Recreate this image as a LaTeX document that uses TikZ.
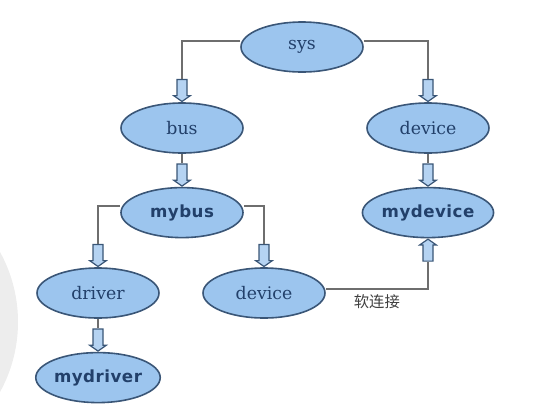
\documentclass[tikz,border=0pt]{standalone}
\usepackage{fontspec}
\setmainfont{DejaVu Serif}
\newfontfamily\boldsans[LetterSpace=3]{DejaVu Sans}
\newfontfamily\cjk{Noto Sans CJK SC}
\usetikzlibrary{positioning,shapes.geometric,shapes.arrows}
\definecolor{nodeblue}{HTML}{9CC5EE}
\definecolor{rimblue}{HTML}{3A5677}
\definecolor{textblue}{HTML}{22406A}
\definecolor{linegray}{HTML}{6E6E6E}
\definecolor{shadegray}{HTML}{EDEDED}

\begin{document}
\begin{tikzpicture}[
  x=0.75pt, y=-0.75pt,
  font=\fontsize{13}{15}\selectfont,
    node distance=24.75pt,
    dir/.style={ellipse, draw=rimblue, line width=1.2pt, fill=nodeblue, text=textblue,
      minimum width=91.5pt, minimum height=37.5pt, inner sep=0pt},
    obj/.style={dir, font=\fontsize{12.5}{15}\boldsans\bfseries},
    link/.style={draw=linegray, line width=1.1pt},
    pointer/.style={single arrow, draw=rimblue, line width=.9pt, fill=nodeblue!75!white,
      minimum height=16.5pt, minimum width=0pt, single arrow head extend=2.5pt,
      single arrow tip angle=110, inner sep=3.3pt},
    down/.style={pointer, shape border rotate=270, anchor=tip},
    up/.style={pointer, shape border rotate=90, anchor=tip}
]

\useasboundingbox (0,0) rectangle (558,408);

% Grey disc at the left edge
\begin{scope}
  \clip (0,0) rectangle (558,408);
  \fill[shadegray] (-127,322) circle[radius=108.75pt];
\end{scope}

% Nodes
\node[dir] (sys) at (302,47) {sys};
\node[dir] (bus) at (182,128) {bus};
\node[dir] (device) at (428,128) {device};
\node[obj, below=of bus] (mybus) {mybus};
\node[obj, below=of device] (mydevice) {mydevice};
\node[dir] (driver) at (98,293) {driver};
\node[dir] (devlink) at (264,293) {device};
\node[obj, below=of driver] (mydriver) {mydriver};

% Block arrow heads
\node[down] (p1) at (bus.north) {};
\node[down] (p2) at (device.north) {};
\node[down] (p3) at (mybus.north) {};
\node[down] (p4) at (driver.north) {};
\node[down] (p5) at (devlink.north) {};
\node[down] (p6) at (mydevice.north) {};
\node[down] (p7) at (mydriver.north) {};
\node[up] (p8) at (mydevice.south) {};

% Connectors
\draw[link] ([yshift=4.5pt]sys.west) -| (p1.tail);
\draw[link] ([yshift=4.5pt]sys.east) -| (p2.tail);
\draw[link] (bus.south) -- (p3.tail);
\draw[link] ([yshift=5pt]mybus.west) -| (p4.tail);
\draw[link] ([yshift=5pt]mybus.east) -| (p5.tail);
\draw[link] (device.south) -- (p6.tail);
\draw[link] (driver.south) -- (p7.tail);

% Soft link
\draw[link] ([yshift=3pt]devlink.east) -| node[pos=.25, below=0pt, font=\fontsize{11.5}{13}\cjk, text=black!75] {软连接} (p8.tail);

\end{tikzpicture}
\end{document}
